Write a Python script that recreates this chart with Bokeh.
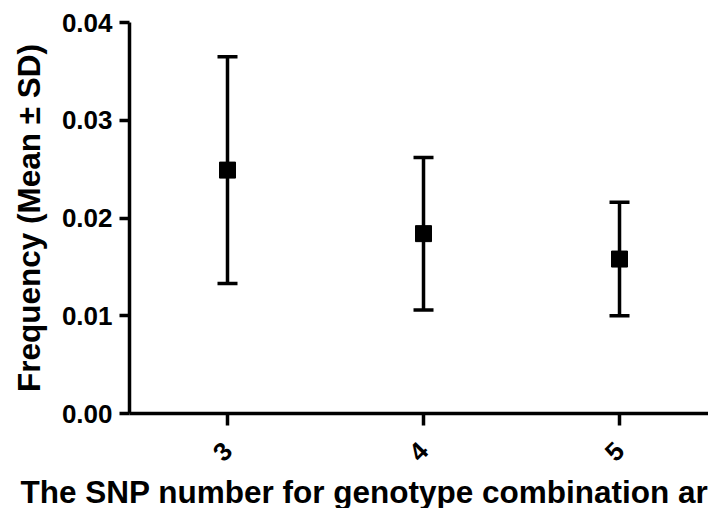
import math
from bokeh.plotting import figure
from bokeh.models import ColumnDataSource, Whisker, TeeHead, FixedTicker, Title, Range1d
from bokeh.embed import file_html
from bokeh.resources import INLINE

# data
snp_numbers = [3, 4, 5]
tick_labels = ["3", "4", "5"]
means = [0.0249, 0.0184, 0.0158]
sds = [0.0116, 0.0078, 0.0058]
y_ticks = [0.00, 0.01, 0.02, 0.03, 0.04]
y_tick_labels = ["0.00", "0.01", "0.02", "0.03", "0.04"]
x_title = "The SNP number for genotype combination ar"
y_title = "Frequency (Mean \u00b1 SD)"

FONT = "Liberation Sans"

src = ColumnDataSource(dict(
    x=snp_numbers,
    mean=means,
    upper=[m + s for m, s in zip(means, sds)],
    lower=[m - s for m, s in zip(means, sds)],
))

p = figure(width=708, height=508, output_backend="svg", toolbar_location=None,
           x_range=Range1d(2.5, 5.454), y_range=Range1d(0, 0.04),
           min_border_left=129, min_border_right=0, min_border_top=22, min_border_bottom=0)
p.outline_line_color = None
p.grid.visible = False
p.background_fill_color = "white"
p.border_fill_color = "white"

w = Whisker(source=src, base="x", upper="upper", lower="lower",
            line_color="black", line_width=3.5,
            upper_head=TeeHead(size=20, line_width=3.5, line_color="black"),
            lower_head=TeeHead(size=20, line_width=3.5, line_color="black"))
p.add_layout(w)
p.scatter("x", "mean", source=src, marker="square", size=16, color="black")

# y axis
ya = p.yaxis[0]
ya.ticker = FixedTicker(ticks=y_ticks)
ya.major_label_overrides = {t: l for t, l in zip(y_ticks, y_tick_labels)}
ya.axis_line_width = 3.5
ya.major_tick_line_width = 3.5
ya.major_tick_out = 10
ya.major_tick_in = 0
ya.minor_tick_line_color = None
ya.major_label_text_font = FONT
ya.major_label_text_font_style = "bold"
ya.major_label_text_font_size = "26px"
ya.major_label_text_color = "black"
ya.major_label_standoff = 7
ya.axis_label = y_title
ya.axis_label_text_font = FONT
ya.axis_label_text_font_style = "bold"
ya.axis_label_text_font_size = "31.5px"
ya.axis_label_text_color = "black"
ya.axis_label_standoff = 12

# x axis
xa = p.xaxis[0]
xa.ticker = FixedTicker(ticks=snp_numbers)
xa.major_label_overrides = {t: l for t, l in zip(snp_numbers, tick_labels)}
xa.axis_line_width = 3.5
xa.major_tick_line_width = 3.5
xa.major_tick_out = 12
xa.major_tick_in = 0
xa.minor_tick_line_color = None
xa.major_label_text_font = FONT
xa.major_label_text_font_style = "bold"
xa.major_label_text_font_size = "26px"
xa.major_label_text_color = "black"
xa.major_label_orientation = math.pi / 4
xa.major_label_standoff = 21

title = Title(text=x_title, align="left", offset=-109, standoff=-2,
              text_font=FONT, text_font_style="bold", text_font_size="31.5px",
              text_color="black")
p.add_layout(title, "below")

open("out.html", "w").write(file_html(p, INLINE))
